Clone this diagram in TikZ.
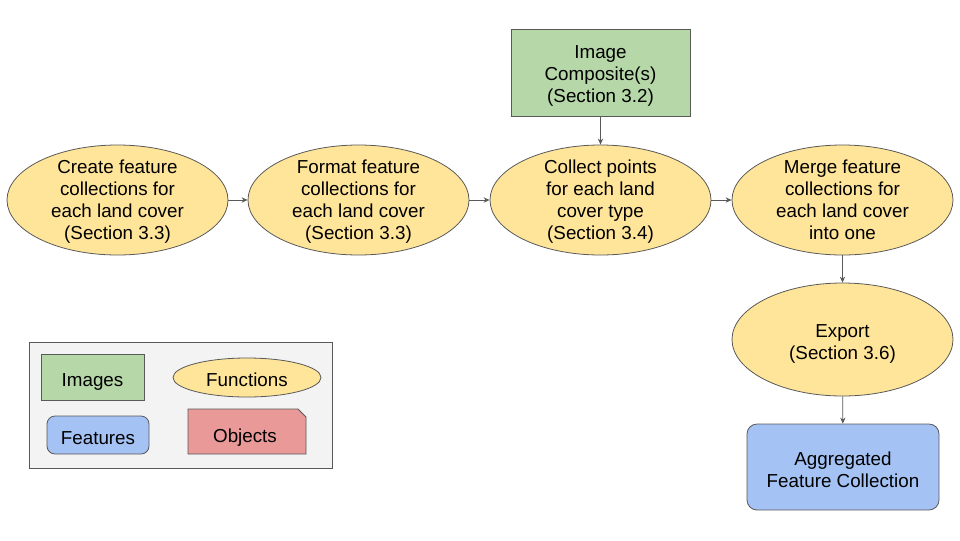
\documentclass[tikz,border=0pt]{standalone}
\usepackage{fontspec}
\setmainfont{Liberation Sans}
\usetikzlibrary{shapes.geometric,arrows.meta}
\definecolor{fyellow}{HTML}{FFE599}
\definecolor{fgreen}{HTML}{B6D7A8}
\definecolor{fblue}{HTML}{A4C2F4}
\definecolor{fred}{HTML}{EA9999}
\definecolor{edgegray}{HTML}{595959}
\definecolor{leggray}{HTML}{F3F3F3}
\newcommand\myTop[1]{\rule{0pt}{#1pt}}
\newcommand\myBot{\rule[-3.2pt]{0pt}{3.2pt}}
\tikzset{
  func/.style={ellipse, draw=edgegray, fill=fyellow, line width=0.6pt, inner sep=-20pt, align=center},
  imgbox/.style={rectangle, draw=edgegray, fill=fgreen, line width=0.6pt, inner sep=0pt, align=center},
  featbox/.style={rectangle, rounded corners=7.5pt, draw=edgegray, fill=fblue, line width=0.6pt, inner sep=0pt, align=center},
  conn/.style={draw=edgegray, line width=0.6pt, -{Stealth[length=4.5pt,width=4pt]}},
  txt/.style={font=\fontsize{14.1}{16.5}\selectfont, text=black}
}
\begin{document}
\begin{tikzpicture}[x=0.75pt,y=-0.75pt]
\useasboundingbox (0,0) rectangle (960,540);
% main flow
\node[func,txt,minimum width=221*0.75pt,minimum height=110*0.75pt] (create) at (117.5,200) {\myTop{13.3}Create feature\\collections for\\each land cover\\\myBot(Section 3.3)};
\node[func,txt,minimum width=221*0.75pt,minimum height=110*0.75pt] (format) at (358.5,200) {\myTop{13.3}Format feature\\collections for\\each land cover\\\myBot(Section 3.3)};
\node[func,txt,minimum width=221*0.75pt,minimum height=110*0.75pt] (collect) at (600.5,200) {\myTop{13.3}Collect points\\for each land\\cover type\\\myBot(Section 3.4)};
\node[func,txt,minimum width=221*0.75pt,minimum height=110*0.75pt] (merge) at (842.5,200) {\myTop{13.3}Merge feature\\collections for\\each land cover\\\myBot into one};
\node[imgbox,txt,minimum width=179*0.75pt,minimum height=87*0.75pt] (comp) at (600.5,72.5) {\myTop{15.8}Image\\Composite(s)\\\myBot(Section 3.2)};
\node[func,txt,minimum width=221*0.75pt,minimum height=113*0.75pt] (export) at (842.5,339.5) {\myTop{16.8}Export\\\myBot(Section 3.6)};
\node[featbox,txt,minimum width=192*0.75pt,minimum height=86*0.75pt] (agg) at (843,467) {\myTop{16.8}Aggregated\\\myBot Feature Collection};

\draw[conn] (create) -- (format);
\draw[conn] (format) -- (collect);
\draw[conn] (collect) -- (merge);
\draw[conn] (comp) -- (collect);
\draw[conn] (merge) -- (export);
\draw[conn] (export) -- (agg);

% legend
\node[rectangle, draw=edgegray, fill=leggray, line width=0.6pt, minimum width=303*0.75pt, minimum height=126*0.75pt, inner sep=0pt] (legend) at (180.5,405) {};
\node[imgbox,txt,minimum width=103*0.75pt,minimum height=46*0.75pt] (limg) at (92.5,377) {\myTop{17.8}\myBot Images};
\node[func,txt,minimum width=148*0.75pt,minimum height=39*0.75pt] (lfunc) at (247,377.5) {\myTop{16.8}\myBot Functions};
\node[featbox,txt,rounded corners=6pt,minimum width=102*0.75pt,minimum height=38*0.75pt] (lfeat) at (98,435) {\myTop{17.8}\myBot Features};
\draw[draw=edgegray, fill=fred, line width=0.6pt] (188,409) -- (298,409) -- (306,417) -- (306,454) -- (188,454) -- cycle;
\node[txt, inner sep=0pt] (lobj) at (245,432.5) {\myTop{17.8}\myBot Objects};
\end{tikzpicture}
\end{document}
